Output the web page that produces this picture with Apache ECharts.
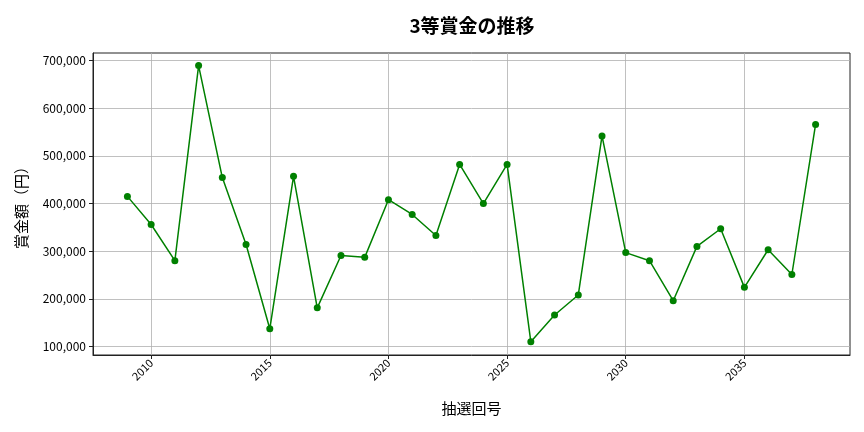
<!DOCTYPE html>
<html>
<head>
<meta charset="utf-8">
<script src="https://cdn.jsdelivr.net/npm/echarts@6/dist/echarts.min.js"></script>
<style>
  html, body { margin: 0; padding: 0; background: #fff; }
  #chart { width: 864px; height: 432px; }
</style>
</head>
<body>
<div id="chart"></div>
<script>
// 抽選回号 と 3等賞金（円）
var years = [2009, 2010, 2011, 2012, 2013, 2014, 2015, 2016, 2017, 2018,
  2019, 2020, 2021, 2022, 2023, 2024, 2025, 2026, 2027, 2028,
  2029, 2030, 2031, 2032, 2033, 2034, 2035, 2036, 2037, 2038];
var prizes = [415000, 356000, 280000, 689500, 454500, 314000, 137000, 457000, 181000, 291000,
  287000, 408000, 377000, 333000, 482000, 400000, 482000, 110000, 166000, 208000,
  542000, 297000, 280000, 196000, 310000, 347000, 224000, 303000, 251000, 566000];
var xTicks = [2010, 2015, 2020, 2025, 2030, 2035];
var yTicks = [100000, 200000, 300000, 400000, 500000, 600000, 700000];

var font = '"Noto Sans CJK JP", "Noto Sans", sans-serif';
var chart = echarts.init(document.getElementById('chart'), null, { renderer: 'canvas' });

var points = years.map(function (y, i) { return [y, prizes[i]]; });

var gridLine = { show: true, lineStyle: { color: '#b0b0b0', width: 0.8 } };

chart.setOption({
  animation: false,
  backgroundColor: '#ffffff',
  title: {
    text: '3等賞金の推移',
    left: 467, top: 11, textAlign: 'center',
    textStyle: { fontFamily: font, fontSize: 19, fontWeight: 'bold', color: '#000' }
  },
  grid: { left: 93, right: 14, top: 53, bottom: 77, show: true, borderColor: '#222', borderWidth: 1 },
  xAxis: {
    type: 'value',
    min: 2007.55, max: 2039.45,
    name: '抽選回号', nameLocation: 'middle', nameGap: 46,
    nameTextStyle: { fontFamily: font, fontSize: 15, color: '#000' },
    axisLine: { show: true, onZero: false, lineStyle: { color: '#222' } },
    axisTick: { show: true, customValues: xTicks, length: 4, lineStyle: { color: '#222' } },
    axisLabel: {
      customValues: xTicks, rotate: 45, fontFamily: font, fontSize: 11, color: '#000', margin: 6,
      formatter: function (v) { return String(v); }
    },
    splitLine: gridLine
  },
  yAxis: {
    type: 'value',
    min: 82000, max: 716000,
    name: '賞金額（円）', nameLocation: 'middle', nameGap: 64,
    nameTextStyle: { fontFamily: font, fontSize: 15, color: '#000' },
    axisLine: { show: true, onZero: false, lineStyle: { color: '#222' } },
    axisTick: { show: true, customValues: yTicks, length: 4, lineStyle: { color: '#222' } },
    axisLabel: {
      customValues: yTicks, fontFamily: font, fontSize: 12, color: '#000', margin: 7,
      formatter: function (v) { return v.toLocaleString('en-US'); }
    },
    splitLine: gridLine
  },
  series: [{
    type: 'line',
    data: points,
    symbol: 'circle', symbolSize: 7,
    lineStyle: { color: '#008000', width: 1.5 },
    itemStyle: { color: '#008000' }
  }]
});
</script>
</body>
</html>
